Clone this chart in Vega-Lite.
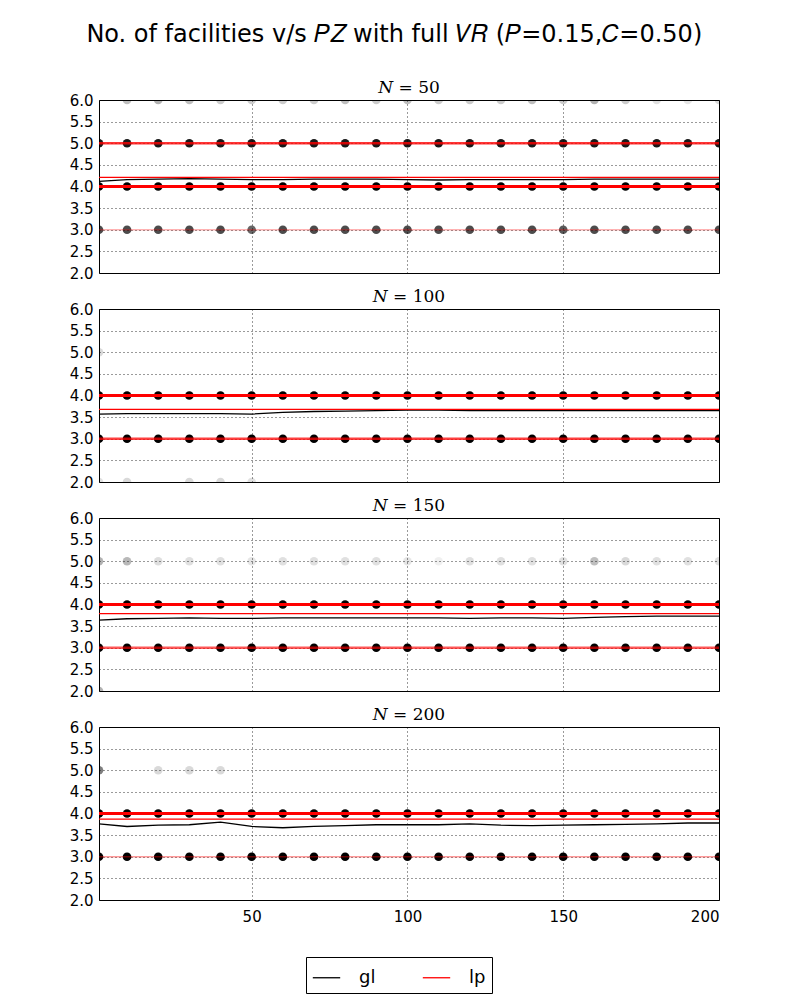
{
  "$schema": "https://vega.github.io/schema/vega-lite/v6.json",
  "padding": {"left": 69, "top": 22, "right": 70, "bottom": 5},
  "title": {"text": "No. of facilities v/s 𝑃𝑍 with full 𝑉𝑅 (𝑃=0.15,𝐶=0.50)", "font": "DejaVu Sans", "fontSize": 24, "fontWeight": "normal", "color": "black", "anchor": "middle", "offset": 32},
  "data": {"values": [
    {"kind":"pt","N":50,"x":10,"y":6,"share":0.25},{"kind":"pt","N":50,"x":20,"y":6,"share":0.3},{"kind":"pt","N":50,"x":30,"y":6,"share":0.25},{"kind":"pt","N":50,"x":40,"y":6,"share":0.2},{"kind":"pt","N":50,"x":50,"y":6,"share":0.2},{"kind":"pt","N":50,"x":60,"y":6,"share":0.2},{"kind":"pt","N":50,"x":70,"y":6,"share":0.2},{"kind":"pt","N":50,"x":80,"y":6,"share":0.25},{"kind":"pt","N":50,"x":90,"y":6,"share":0.2},{"kind":"pt","N":50,"x":100,"y":6,"share":0.25},{"kind":"pt","N":50,"x":110,"y":6,"share":0.2},{"kind":"pt","N":50,"x":120,"y":6,"share":0.2},{"kind":"pt","N":50,"x":130,"y":6,"share":0.2},{"kind":"pt","N":50,"x":140,"y":6,"share":0.25},{"kind":"pt","N":50,"x":150,"y":6,"share":0.2},{"kind":"pt","N":50,"x":160,"y":6,"share":0.3},{"kind":"pt","N":50,"x":170,"y":6,"share":0.2},{"kind":"pt","N":50,"x":180,"y":6,"share":0.12},{"kind":"pt","N":50,"x":190,"y":6,"share":0.1},{"kind":"pt","N":50,"x":200,"y":6,"share":0.15},
    {"kind":"pt","N":50,"x":1,"y":5,"share":0.9},{"kind":"pt","N":50,"x":10,"y":5,"share":0.9},{"kind":"pt","N":50,"x":20,"y":5,"share":0.9},{"kind":"pt","N":50,"x":30,"y":5,"share":0.9},{"kind":"pt","N":50,"x":40,"y":5,"share":0.9},{"kind":"pt","N":50,"x":50,"y":5,"share":0.9},{"kind":"pt","N":50,"x":60,"y":5,"share":0.9},{"kind":"pt","N":50,"x":70,"y":5,"share":0.9},{"kind":"pt","N":50,"x":80,"y":5,"share":0.9},{"kind":"pt","N":50,"x":90,"y":5,"share":0.9},{"kind":"pt","N":50,"x":100,"y":5,"share":0.9},{"kind":"pt","N":50,"x":110,"y":5,"share":0.9},{"kind":"pt","N":50,"x":120,"y":5,"share":0.9},{"kind":"pt","N":50,"x":130,"y":5,"share":0.9},{"kind":"pt","N":50,"x":140,"y":5,"share":0.9},{"kind":"pt","N":50,"x":150,"y":5,"share":0.9},{"kind":"pt","N":50,"x":160,"y":5,"share":0.9},{"kind":"pt","N":50,"x":170,"y":5,"share":0.9},{"kind":"pt","N":50,"x":180,"y":5,"share":0.9},{"kind":"pt","N":50,"x":190,"y":5,"share":0.9},{"kind":"pt","N":50,"x":200,"y":5,"share":0.9},
    {"kind":"pt","N":50,"x":1,"y":4,"share":1},{"kind":"pt","N":50,"x":10,"y":4,"share":1},{"kind":"pt","N":50,"x":20,"y":4,"share":1},{"kind":"pt","N":50,"x":30,"y":4,"share":1},{"kind":"pt","N":50,"x":40,"y":4,"share":1},{"kind":"pt","N":50,"x":50,"y":4,"share":1},{"kind":"pt","N":50,"x":60,"y":4,"share":1},{"kind":"pt","N":50,"x":70,"y":4,"share":1},{"kind":"pt","N":50,"x":80,"y":4,"share":1},{"kind":"pt","N":50,"x":90,"y":4,"share":1},{"kind":"pt","N":50,"x":100,"y":4,"share":1},{"kind":"pt","N":50,"x":110,"y":4,"share":1},{"kind":"pt","N":50,"x":120,"y":4,"share":1},{"kind":"pt","N":50,"x":130,"y":4,"share":1},{"kind":"pt","N":50,"x":140,"y":4,"share":1},{"kind":"pt","N":50,"x":150,"y":4,"share":1},{"kind":"pt","N":50,"x":160,"y":4,"share":1},{"kind":"pt","N":50,"x":170,"y":4,"share":1},{"kind":"pt","N":50,"x":180,"y":4,"share":1},{"kind":"pt","N":50,"x":190,"y":4,"share":1},{"kind":"pt","N":50,"x":200,"y":4,"share":1},
    {"kind":"pt","N":50,"x":1,"y":3,"share":0.7},{"kind":"pt","N":50,"x":10,"y":3,"share":0.7},{"kind":"pt","N":50,"x":20,"y":3,"share":0.7},{"kind":"pt","N":50,"x":30,"y":3,"share":0.7},{"kind":"pt","N":50,"x":40,"y":3,"share":0.7},{"kind":"pt","N":50,"x":50,"y":3,"share":0.6},{"kind":"pt","N":50,"x":60,"y":3,"share":0.7},{"kind":"pt","N":50,"x":70,"y":3,"share":0.7},{"kind":"pt","N":50,"x":80,"y":3,"share":0.7},{"kind":"pt","N":50,"x":90,"y":3,"share":0.7},{"kind":"pt","N":50,"x":100,"y":3,"share":0.7},{"kind":"pt","N":50,"x":110,"y":3,"share":0.7},{"kind":"pt","N":50,"x":120,"y":3,"share":0.7},{"kind":"pt","N":50,"x":130,"y":3,"share":0.7},{"kind":"pt","N":50,"x":140,"y":3,"share":0.7},{"kind":"pt","N":50,"x":150,"y":3,"share":0.65},{"kind":"pt","N":50,"x":160,"y":3,"share":0.7},{"kind":"pt","N":50,"x":170,"y":3,"share":0.7},{"kind":"pt","N":50,"x":180,"y":3,"share":0.7},{"kind":"pt","N":50,"x":190,"y":3,"share":0.7},{"kind":"pt","N":50,"x":200,"y":3,"share":0.7},
    {"kind":"pt","N":100,"x":1,"y":5,"share":0.15},
    {"kind":"pt","N":100,"x":1,"y":4,"share":1},{"kind":"pt","N":100,"x":10,"y":4,"share":1},{"kind":"pt","N":100,"x":20,"y":4,"share":1},{"kind":"pt","N":100,"x":30,"y":4,"share":1},{"kind":"pt","N":100,"x":40,"y":4,"share":1},{"kind":"pt","N":100,"x":50,"y":4,"share":1},{"kind":"pt","N":100,"x":60,"y":4,"share":1},{"kind":"pt","N":100,"x":70,"y":4,"share":1},{"kind":"pt","N":100,"x":80,"y":4,"share":1},{"kind":"pt","N":100,"x":90,"y":4,"share":1},{"kind":"pt","N":100,"x":100,"y":4,"share":1},{"kind":"pt","N":100,"x":110,"y":4,"share":1},{"kind":"pt","N":100,"x":120,"y":4,"share":1},{"kind":"pt","N":100,"x":130,"y":4,"share":1},{"kind":"pt","N":100,"x":140,"y":4,"share":1},{"kind":"pt","N":100,"x":150,"y":4,"share":1},{"kind":"pt","N":100,"x":160,"y":4,"share":1},{"kind":"pt","N":100,"x":170,"y":4,"share":1},{"kind":"pt","N":100,"x":180,"y":4,"share":1},{"kind":"pt","N":100,"x":190,"y":4,"share":1},{"kind":"pt","N":100,"x":200,"y":4,"share":1},
    {"kind":"pt","N":100,"x":1,"y":3,"share":1},{"kind":"pt","N":100,"x":10,"y":3,"share":1},{"kind":"pt","N":100,"x":20,"y":3,"share":1},{"kind":"pt","N":100,"x":30,"y":3,"share":1},{"kind":"pt","N":100,"x":40,"y":3,"share":1},{"kind":"pt","N":100,"x":50,"y":3,"share":1},{"kind":"pt","N":100,"x":60,"y":3,"share":1},{"kind":"pt","N":100,"x":70,"y":3,"share":1},{"kind":"pt","N":100,"x":80,"y":3,"share":1},{"kind":"pt","N":100,"x":90,"y":3,"share":1},{"kind":"pt","N":100,"x":100,"y":3,"share":1},{"kind":"pt","N":100,"x":110,"y":3,"share":1},{"kind":"pt","N":100,"x":120,"y":3,"share":1},{"kind":"pt","N":100,"x":130,"y":3,"share":1},{"kind":"pt","N":100,"x":140,"y":3,"share":1},{"kind":"pt","N":100,"x":150,"y":3,"share":1},{"kind":"pt","N":100,"x":160,"y":3,"share":1},{"kind":"pt","N":100,"x":170,"y":3,"share":1},{"kind":"pt","N":100,"x":180,"y":3,"share":1},{"kind":"pt","N":100,"x":190,"y":3,"share":1},{"kind":"pt","N":100,"x":200,"y":3,"share":1},
    {"kind":"pt","N":100,"x":1,"y":2,"share":0.12},{"kind":"pt","N":100,"x":10,"y":2,"share":0.15},{"kind":"pt","N":100,"x":30,"y":2,"share":0.15},{"kind":"pt","N":100,"x":40,"y":2,"share":0.15},{"kind":"pt","N":100,"x":50,"y":2,"share":0.12},
    {"kind":"pt","N":150,"x":1,"y":5,"share":0.3},{"kind":"pt","N":150,"x":10,"y":5,"share":0.28},{"kind":"pt","N":150,"x":20,"y":5,"share":0.13},{"kind":"pt","N":150,"x":30,"y":5,"share":0.12},{"kind":"pt","N":150,"x":40,"y":5,"share":0.12},{"kind":"pt","N":150,"x":50,"y":5,"share":0.1},{"kind":"pt","N":150,"x":60,"y":5,"share":0.12},{"kind":"pt","N":150,"x":70,"y":5,"share":0.12},{"kind":"pt","N":150,"x":80,"y":5,"share":0.12},{"kind":"pt","N":150,"x":90,"y":5,"share":0.12},{"kind":"pt","N":150,"x":100,"y":5,"share":0.1},{"kind":"pt","N":150,"x":110,"y":5,"share":0.06},{"kind":"pt","N":150,"x":120,"y":5,"share":0.12},{"kind":"pt","N":150,"x":130,"y":5,"share":0.12},{"kind":"pt","N":150,"x":140,"y":5,"share":0.12},{"kind":"pt","N":150,"x":150,"y":5,"share":0.12},{"kind":"pt","N":150,"x":160,"y":5,"share":0.25},{"kind":"pt","N":150,"x":170,"y":5,"share":0.15},{"kind":"pt","N":150,"x":180,"y":5,"share":0.12},{"kind":"pt","N":150,"x":190,"y":5,"share":0.12},{"kind":"pt","N":150,"x":200,"y":5,"share":0.12},
    {"kind":"pt","N":150,"x":1,"y":4,"share":1},{"kind":"pt","N":150,"x":10,"y":4,"share":1},{"kind":"pt","N":150,"x":20,"y":4,"share":1},{"kind":"pt","N":150,"x":30,"y":4,"share":1},{"kind":"pt","N":150,"x":40,"y":4,"share":1},{"kind":"pt","N":150,"x":50,"y":4,"share":1},{"kind":"pt","N":150,"x":60,"y":4,"share":1},{"kind":"pt","N":150,"x":70,"y":4,"share":1},{"kind":"pt","N":150,"x":80,"y":4,"share":1},{"kind":"pt","N":150,"x":90,"y":4,"share":1},{"kind":"pt","N":150,"x":100,"y":4,"share":1},{"kind":"pt","N":150,"x":110,"y":4,"share":1},{"kind":"pt","N":150,"x":120,"y":4,"share":1},{"kind":"pt","N":150,"x":130,"y":4,"share":1},{"kind":"pt","N":150,"x":140,"y":4,"share":1},{"kind":"pt","N":150,"x":150,"y":4,"share":1},{"kind":"pt","N":150,"x":160,"y":4,"share":1},{"kind":"pt","N":150,"x":170,"y":4,"share":1},{"kind":"pt","N":150,"x":180,"y":4,"share":1},{"kind":"pt","N":150,"x":190,"y":4,"share":1},{"kind":"pt","N":150,"x":200,"y":4,"share":1},
    {"kind":"pt","N":150,"x":1,"y":3,"share":1},{"kind":"pt","N":150,"x":10,"y":3,"share":1},{"kind":"pt","N":150,"x":20,"y":3,"share":1},{"kind":"pt","N":150,"x":30,"y":3,"share":1},{"kind":"pt","N":150,"x":40,"y":3,"share":1},{"kind":"pt","N":150,"x":50,"y":3,"share":1},{"kind":"pt","N":150,"x":60,"y":3,"share":1},{"kind":"pt","N":150,"x":70,"y":3,"share":1},{"kind":"pt","N":150,"x":80,"y":3,"share":1},{"kind":"pt","N":150,"x":90,"y":3,"share":1},{"kind":"pt","N":150,"x":100,"y":3,"share":1},{"kind":"pt","N":150,"x":110,"y":3,"share":1},{"kind":"pt","N":150,"x":120,"y":3,"share":1},{"kind":"pt","N":150,"x":130,"y":3,"share":1},{"kind":"pt","N":150,"x":140,"y":3,"share":1},{"kind":"pt","N":150,"x":150,"y":3,"share":1},{"kind":"pt","N":150,"x":160,"y":3,"share":1},{"kind":"pt","N":150,"x":170,"y":3,"share":1},{"kind":"pt","N":150,"x":180,"y":3,"share":1},{"kind":"pt","N":150,"x":190,"y":3,"share":1},{"kind":"pt","N":150,"x":200,"y":3,"share":1},
    {"kind":"pt","N":150,"x":1,"y":2,"share":0.3},
    {"kind":"pt","N":200,"x":1,"y":5,"share":0.5},{"kind":"pt","N":200,"x":20,"y":5,"share":0.15},{"kind":"pt","N":200,"x":30,"y":5,"share":0.15},{"kind":"pt","N":200,"x":40,"y":5,"share":0.15},
    {"kind":"pt","N":200,"x":1,"y":4,"share":1},{"kind":"pt","N":200,"x":10,"y":4,"share":1},{"kind":"pt","N":200,"x":20,"y":4,"share":1},{"kind":"pt","N":200,"x":30,"y":4,"share":1},{"kind":"pt","N":200,"x":40,"y":4,"share":1},{"kind":"pt","N":200,"x":50,"y":4,"share":1},{"kind":"pt","N":200,"x":60,"y":4,"share":1},{"kind":"pt","N":200,"x":70,"y":4,"share":1},{"kind":"pt","N":200,"x":80,"y":4,"share":1},{"kind":"pt","N":200,"x":90,"y":4,"share":1},{"kind":"pt","N":200,"x":100,"y":4,"share":1},{"kind":"pt","N":200,"x":110,"y":4,"share":1},{"kind":"pt","N":200,"x":120,"y":4,"share":1},{"kind":"pt","N":200,"x":130,"y":4,"share":1},{"kind":"pt","N":200,"x":140,"y":4,"share":1},{"kind":"pt","N":200,"x":150,"y":4,"share":1},{"kind":"pt","N":200,"x":160,"y":4,"share":1},{"kind":"pt","N":200,"x":170,"y":4,"share":1},{"kind":"pt","N":200,"x":180,"y":4,"share":1},{"kind":"pt","N":200,"x":190,"y":4,"share":1},{"kind":"pt","N":200,"x":200,"y":4,"share":1},
    {"kind":"pt","N":200,"x":1,"y":3,"share":1},{"kind":"pt","N":200,"x":10,"y":3,"share":1},{"kind":"pt","N":200,"x":20,"y":3,"share":1},{"kind":"pt","N":200,"x":30,"y":3,"share":1},{"kind":"pt","N":200,"x":40,"y":3,"share":1},{"kind":"pt","N":200,"x":50,"y":3,"share":1},{"kind":"pt","N":200,"x":60,"y":3,"share":1},{"kind":"pt","N":200,"x":70,"y":3,"share":1},{"kind":"pt","N":200,"x":80,"y":3,"share":1},{"kind":"pt","N":200,"x":90,"y":3,"share":1},{"kind":"pt","N":200,"x":100,"y":3,"share":1},{"kind":"pt","N":200,"x":110,"y":3,"share":1},{"kind":"pt","N":200,"x":120,"y":3,"share":1},{"kind":"pt","N":200,"x":130,"y":3,"share":1},{"kind":"pt","N":200,"x":140,"y":3,"share":1},{"kind":"pt","N":200,"x":150,"y":3,"share":1},{"kind":"pt","N":200,"x":160,"y":3,"share":1},{"kind":"pt","N":200,"x":170,"y":3,"share":1},{"kind":"pt","N":200,"x":180,"y":3,"share":1},{"kind":"pt","N":200,"x":190,"y":3,"share":1},{"kind":"pt","N":200,"x":200,"y":3,"share":1},
    {"kind":"lpval","N":50,"y":5,"share":0.8},{"kind":"lpval","N":50,"y":4,"share":1},{"kind":"lpval","N":50,"y":3,"share":0.3},
    {"kind":"lpval","N":100,"y":4,"share":1},{"kind":"lpval","N":100,"y":3,"share":0.75},
    {"kind":"lpval","N":150,"y":4,"share":1},{"kind":"lpval","N":150,"y":3,"share":0.65},
    {"kind":"lpval","N":200,"y":4,"share":1},{"kind":"lpval","N":200,"y":3,"share":0.4},
    {"kind":"mean","series":"gl","N":50,"x":1,"y":4.12},{"kind":"mean","series":"gl","N":50,"x":10,"y":4.16},{"kind":"mean","series":"gl","N":50,"x":20,"y":4.17},{"kind":"mean","series":"gl","N":50,"x":30,"y":4.18},{"kind":"mean","series":"gl","N":50,"x":40,"y":4.17},{"kind":"mean","series":"gl","N":50,"x":50,"y":4.16},{"kind":"mean","series":"gl","N":50,"x":60,"y":4.16},{"kind":"mean","series":"gl","N":50,"x":70,"y":4.17},{"kind":"mean","series":"gl","N":50,"x":80,"y":4.17},{"kind":"mean","series":"gl","N":50,"x":90,"y":4.17},{"kind":"mean","series":"gl","N":50,"x":100,"y":4.16},{"kind":"mean","series":"gl","N":50,"x":110,"y":4.15},{"kind":"mean","series":"gl","N":50,"x":120,"y":4.16},{"kind":"mean","series":"gl","N":50,"x":130,"y":4.16},{"kind":"mean","series":"gl","N":50,"x":140,"y":4.16},{"kind":"mean","series":"gl","N":50,"x":150,"y":4.16},{"kind":"mean","series":"gl","N":50,"x":160,"y":4.17},{"kind":"mean","series":"gl","N":50,"x":170,"y":4.17},{"kind":"mean","series":"gl","N":50,"x":180,"y":4.17},{"kind":"mean","series":"gl","N":50,"x":190,"y":4.17},{"kind":"mean","series":"gl","N":50,"x":200,"y":4.17},
    {"kind":"mean","series":"gl","N":100,"x":1,"y":3.57},{"kind":"mean","series":"gl","N":100,"x":10,"y":3.58},{"kind":"mean","series":"gl","N":100,"x":20,"y":3.58},{"kind":"mean","series":"gl","N":100,"x":30,"y":3.58},{"kind":"mean","series":"gl","N":100,"x":40,"y":3.58},{"kind":"mean","series":"gl","N":100,"x":50,"y":3.57},{"kind":"mean","series":"gl","N":100,"x":60,"y":3.61},{"kind":"mean","series":"gl","N":100,"x":70,"y":3.63},{"kind":"mean","series":"gl","N":100,"x":80,"y":3.64},{"kind":"mean","series":"gl","N":100,"x":90,"y":3.65},{"kind":"mean","series":"gl","N":100,"x":100,"y":3.66},{"kind":"mean","series":"gl","N":100,"x":110,"y":3.66},{"kind":"mean","series":"gl","N":100,"x":120,"y":3.65},{"kind":"mean","series":"gl","N":100,"x":130,"y":3.65},{"kind":"mean","series":"gl","N":100,"x":140,"y":3.65},{"kind":"mean","series":"gl","N":100,"x":150,"y":3.65},{"kind":"mean","series":"gl","N":100,"x":160,"y":3.65},{"kind":"mean","series":"gl","N":100,"x":170,"y":3.65},{"kind":"mean","series":"gl","N":100,"x":180,"y":3.65},{"kind":"mean","series":"gl","N":100,"x":190,"y":3.65},{"kind":"mean","series":"gl","N":100,"x":200,"y":3.65},
    {"kind":"mean","series":"gl","N":150,"x":1,"y":3.64},{"kind":"mean","series":"gl","N":150,"x":10,"y":3.67},{"kind":"mean","series":"gl","N":150,"x":20,"y":3.68},{"kind":"mean","series":"gl","N":150,"x":30,"y":3.69},{"kind":"mean","series":"gl","N":150,"x":40,"y":3.68},{"kind":"mean","series":"gl","N":150,"x":50,"y":3.68},{"kind":"mean","series":"gl","N":150,"x":60,"y":3.69},{"kind":"mean","series":"gl","N":150,"x":70,"y":3.69},{"kind":"mean","series":"gl","N":150,"x":80,"y":3.69},{"kind":"mean","series":"gl","N":150,"x":90,"y":3.69},{"kind":"mean","series":"gl","N":150,"x":100,"y":3.69},{"kind":"mean","series":"gl","N":150,"x":110,"y":3.69},{"kind":"mean","series":"gl","N":150,"x":120,"y":3.68},{"kind":"mean","series":"gl","N":150,"x":130,"y":3.69},{"kind":"mean","series":"gl","N":150,"x":140,"y":3.69},{"kind":"mean","series":"gl","N":150,"x":150,"y":3.68},{"kind":"mean","series":"gl","N":150,"x":160,"y":3.70},{"kind":"mean","series":"gl","N":150,"x":170,"y":3.72},{"kind":"mean","series":"gl","N":150,"x":180,"y":3.73},{"kind":"mean","series":"gl","N":150,"x":190,"y":3.73},{"kind":"mean","series":"gl","N":150,"x":200,"y":3.73},
    {"kind":"mean","series":"gl","N":200,"x":1,"y":3.76},{"kind":"mean","series":"gl","N":200,"x":10,"y":3.70},{"kind":"mean","series":"gl","N":200,"x":20,"y":3.73},{"kind":"mean","series":"gl","N":200,"x":30,"y":3.74},{"kind":"mean","series":"gl","N":200,"x":40,"y":3.80},{"kind":"mean","series":"gl","N":200,"x":50,"y":3.70},{"kind":"mean","series":"gl","N":200,"x":60,"y":3.67},{"kind":"mean","series":"gl","N":200,"x":70,"y":3.70},{"kind":"mean","series":"gl","N":200,"x":80,"y":3.72},{"kind":"mean","series":"gl","N":200,"x":90,"y":3.74},{"kind":"mean","series":"gl","N":200,"x":100,"y":3.74},{"kind":"mean","series":"gl","N":200,"x":110,"y":3.74},{"kind":"mean","series":"gl","N":200,"x":120,"y":3.76},{"kind":"mean","series":"gl","N":200,"x":130,"y":3.73},{"kind":"mean","series":"gl","N":200,"x":140,"y":3.72},{"kind":"mean","series":"gl","N":200,"x":150,"y":3.73},{"kind":"mean","series":"gl","N":200,"x":160,"y":3.74},{"kind":"mean","series":"gl","N":200,"x":170,"y":3.75},{"kind":"mean","series":"gl","N":200,"x":180,"y":3.76},{"kind":"mean","series":"gl","N":200,"x":190,"y":3.78},{"kind":"mean","series":"gl","N":200,"x":200,"y":3.78},
    {"kind":"mean","series":"lp","N":50,"x":1,"y":4.21},{"kind":"mean","series":"lp","N":50,"x":200,"y":4.21},
    {"kind":"mean","series":"lp","N":100,"x":1,"y":3.68},{"kind":"mean","series":"lp","N":100,"x":200,"y":3.68},
    {"kind":"mean","series":"lp","N":150,"x":1,"y":3.79},{"kind":"mean","series":"lp","N":150,"x":200,"y":3.79},
    {"kind":"mean","series":"lp","N":200,"x":1,"y":3.87},{"kind":"mean","series":"lp","N":200,"x":200,"y":3.87}
  ]},
  "columns": 1,
  "facet": {"field": "N", "type": "ordinal", "header": {"title": null, "labelExpr": "'𝑁 = ' + datum.value", "labelFont": "DejaVu Serif", "labelFontSize": 17, "labelColor": "black", "labelPadding": 3}},
  "spacing": 13,
  "spec": {
    "width": 620,
    "height": 173,
    "layer": [
      {"transform": [{"filter": "datum.kind === 'pt'"}],
       "mark": {"type": "circle", "color": "black", "size": 75, "clip": true, "strokeWidth": 0},
       "encoding": {
         "x": {"field": "x", "type": "quantitative", "scale": {"domain": [1, 200], "nice": false, "zero": false}, "axis": {"values": [50, 100, 150, 200], "labelPadding": 8, "title": null}},
         "y": {"field": "y", "type": "quantitative", "scale": {"domain": [2, 6], "nice": false, "zero": false}, "axis": {"values": [2, 2.5, 3, 3.5, 4, 4.5, 5, 5.5, 6], "format": ".1f", "labelPadding": 5, "title": null}},
         "opacity": {"field": "share", "type": "quantitative", "scale": {"domain": [0, 1], "range": [0, 1]}, "legend": null}}},
      {"transform": [{"filter": "datum.kind === 'lpval'"}],
       "mark": {"type": "rule", "color": "red", "clip": true},
       "encoding": {
         "y": {"field": "y", "type": "quantitative", "scale": {"domain": [2, 6], "nice": false, "zero": false}, "axis": {"values": [2, 2.5, 3, 3.5, 4, 4.5, 5, 5.5, 6], "format": ".1f", "labelPadding": 5, "title": null}},
         "opacity": {"field": "share", "type": "quantitative", "scale": {"domain": [0, 1], "range": [0, 1]}, "legend": null},
         "strokeWidth": {"field": "share", "type": "quantitative", "scale": {"domain": [0, 1], "range": [0.5, 3.2]}, "legend": null}}},
      {"transform": [{"filter": "datum.kind === 'mean'"}],
       "mark": {"type": "line", "strokeWidth": 1.3, "clip": true},
       "encoding": {
         "x": {"field": "x", "type": "quantitative", "scale": {"domain": [1, 200], "nice": false, "zero": false}, "axis": {"values": [50, 100, 150, 200], "labelPadding": 8, "title": null}},
         "y": {"field": "y", "type": "quantitative", "scale": {"domain": [2, 6], "nice": false, "zero": false}, "axis": {"values": [2, 2.5, 3, 3.5, 4, 4.5, 5, 5.5, 6], "format": ".1f", "labelPadding": 5, "title": null}},
         "color": {"field": "series", "type": "nominal", "scale": {"domain": ["gl", "lp"], "range": ["black", "red"]},
         "legend": {"orient": "none", "legendX": 207, "legendY": 857, "direction": "horizontal", "title": null, "symbolType": "stroke", "symbolSize": 750, "symbolStrokeWidth": 1.3, "labelFont": "DejaVu Sans", "labelFontSize": 18, "labelColor": "black", "labelOffset": 18, "columnPadding": 44, "strokeColor": "black", "padding": 6, "cornerRadius": 0}}}}
    ]
  },
  "config": {
    "view": {"stroke": "black", "strokeWidth": 1},
    "axis": {"grid": true, "gridColor": "black", "gridDash": [1, 3], "gridOpacity": 1, "gridWidth": 0.8, "domain": false, "ticks": false, "labelFont": "DejaVu Sans", "labelFontSize": 15, "labelColor": "black", "zindex": 1}
  }
}
